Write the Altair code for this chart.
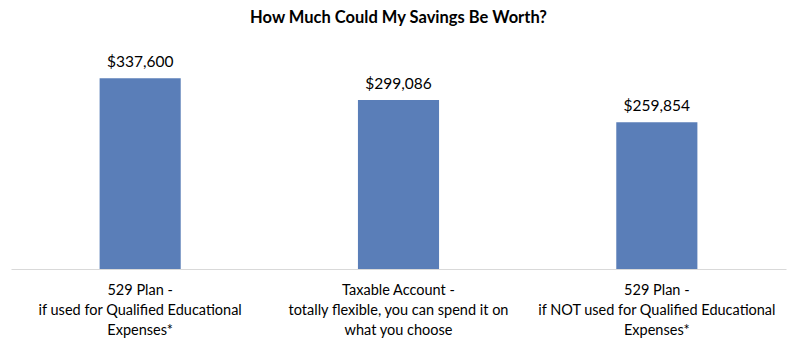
import altair as alt
import pandas as pd

categories = [
    "529 Plan -\nif used for Qualified Educational\nExpenses*",
    "Taxable Account -\ntotally flexible, you can spend it on\nwhat you choose",
    "529 Plan -\nif NOT used for Qualified Educational\nExpenses*",
]
values = [337600, 299086, 259854]

df = pd.DataFrame({"category": categories, "value": values})

FONT = "Lato"

x = alt.X(
    "category:N",
    sort=categories,
    title=None,
    scale=alt.Scale(paddingInner=0.686, paddingOuter=0.343),
    axis=alt.Axis(
        labelAngle=0,
        ticks=False,
        domainColor="#d9d9d9",
        domainWidth=1,
        labelFont=FONT,
        labelFontSize=14.5,
        labelColor="#000000",
        labelLineHeight=20,
        labelPadding=14,
        labelBaseline="top",
        labelLimit=400,
        labelExpr="split(datum.label, '\\n')",
    ),
)
y = alt.Y("value:Q", scale=alt.Scale(domain=[0, 400000]), axis=None)

base = alt.Chart(df)
bars = base.mark_bar(color="#5A7EB8").encode(x=x, y=y)
labels = base.mark_text(
    font=FONT, fontSize=15.5, color="#000000", baseline="alphabetic", dy=-11
).encode(x=x, y=y, text=alt.Text("value:Q", format="$,.0f"))

chart = (
    alt.layer(bars, labels)
    .properties(
        width=775,
        height=226,
        autosize=alt.AutoSizeParams(type="none"),
        padding={"left": 11, "top": 43, "right": 11, "bottom": 76},
        view=alt.ViewBackground(stroke="transparent", strokeWidth=0),
        title=alt.TitleParams(
            "How Much Could My Savings Be Worth?",
            font=FONT,
            fontSize=16.5,
            fontWeight="bold",
            color="#000000",
            anchor="middle",
            offset=17,
        ),
    )
    .configure_view(strokeWidth=0, stroke="transparent")
    .configure(background="white")
)

chart.save("out.html", embed_options={"renderer": "svg", "actions": False})
